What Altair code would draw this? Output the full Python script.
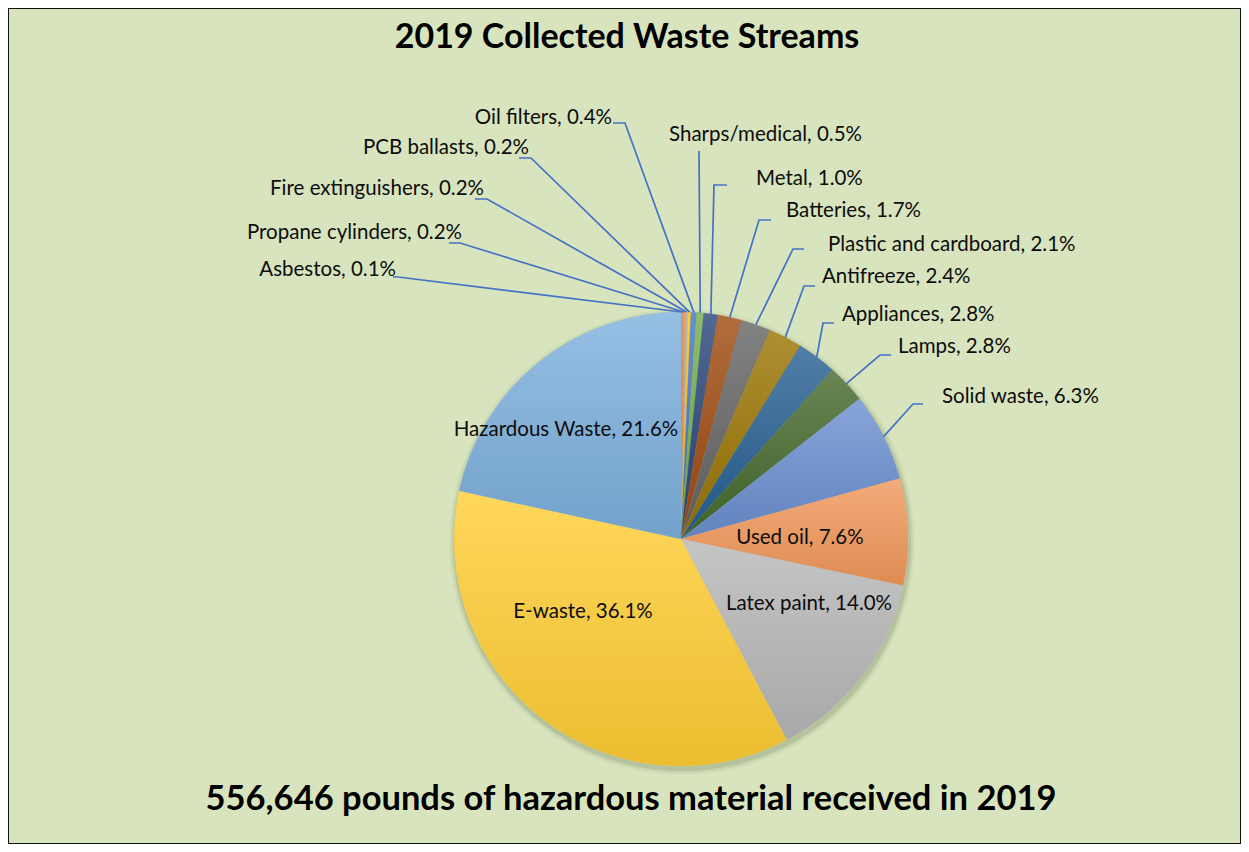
import math
import altair as alt
import pandas as pd

# ---------------- data ----------------
names = ["Asbestos", "Propane cylinders", "Fire extinguishers", "PCB ballasts",
         "Oil filters", "Sharps/medical", "Metal", "Batteries",
         "Plastic and cardboard", "Antifreeze", "Appliances", "Lamps",
         "Solid waste", "Used oil", "Latex paint", "E-waste", "Hazardous Waste"]
shares = [0.1, 0.2, 0.2, 0.2, 0.4, 0.5, 1.0, 1.7, 2.1, 2.4, 2.8, 2.8,
          6.3, 7.6, 14.0, 36.1, 21.6]
colors = ["#5B9BD5", "#ED7D31", "#A5A5A5", "#FFC000", "#4472C4", "#70AD47",
          "#264478", "#9E480E", "#636363", "#997300", "#255E91", "#43682B",
          "#698ED0", "#F1975A", "#B7B7B7", "#FFCD33", "#7CAFDD"]

title_text = "2019 Collected Waste Streams"
footer_text = "556,646 pounds of hazardous material received in 2019"

# ---------------- layout (px offsets from pie centre, y downwards) ----------------
R = 227
X_DOMAIN = [-673, 560]
Y_DOMAIN = [-531, 305]
label_pos = {
    "Asbestos": (-285, -269, "right"), "Propane cylinders": (-219, -306, "right"),
    "Fire extinguishers": (-197, -350, "right"), "PCB ballasts": (-152, -391, "right"),
    "Oil filters": (-69, -421, "right"),
    "Sharps/medical": (-12, -404, "left"), "Metal": (75, -360, "left"),
    "Batteries": (105, -328, "left"), "Plastic and cardboard": (147, -294, "left"),
    "Antifreeze": (141, -262, "left"), "Appliances": (161, -224, "left"),
    "Lamps": (217, -192, "left"), "Solid waste": (261, -142, "left"),
    "Used oil": (119, -1, "center"), "Latex paint": (128, 65, "center"),
    "E-waste": (-98, 73, "center"), "Hazardous Waste": (-115, -109, "center"),
}
# leader: (start x, elbow x, y)
leader = {
    "Asbestos": (-288, -283, -262), "Propane cylinders": (-232, -221, -296),
    "Fire extinguishers": (-206, -194, -340), "PCB ballasts": (-162, -150, -381),
    "Oil filters": (-68, -56, -416), "Sharps/medical": (18, 18, -388),
    "Metal": (46, 33, -354), "Batteries": (90, 78, -319),
    "Plastic and cardboard": (123, 112, -290), "Antifreeze": (134, 123, -253),
    "Appliances": (153, 142, -216), "Lamps": (210, 199, -184),
    "Solid waste": (242, 232, -135),
}

FONT = "Lato"
BG = "#D8E4BD"


def mix(hex_color, target, t):
    h = hex_color.lstrip("#")
    rgb = [int(h[i:i + 2], 16) for i in (0, 2, 4)]
    out = [round(c + (target - c) * t) for c in rgb]
    return "#" + "".join(f"{c:02X}" for c in out)


# ---------------- derived tables ----------------
rows = []
cum = 0.0
for n, s, c in zip(names, shares, colors):
    rows.append({"name": n, "value": s, "start": cum, "end": cum + s,
                 "mid": cum + s / 2, "label": f"{n}, {s:.1f}%"})
    cum += s
df = pd.DataFrame(rows)

xs = alt.Scale(domain=X_DOMAIN, nice=False, zero=False)
ys = alt.Scale(domain=Y_DOMAIN, nice=False, zero=False, reverse=True)
ts = alt.Scale(domain=[0, 100], range=[0, 2 * math.pi])


def X(field=None, datum=None):
    if datum is not None:
        return alt.X(datum=datum, type="quantitative", scale=xs, axis=None)
    return alt.X(field, type="quantitative", scale=xs, axis=None)


def Y(field=None, datum=None):
    if datum is not None:
        return alt.Y(datum=datum, type="quantitative", scale=ys, axis=None)
    return alt.Y(field, type="quantitative", scale=ys, axis=None)


one = pd.DataFrame({"k": [0]})
layers = []

# soft shadow
for extra, op in [(6, 0.04), (4, 0.07), (2, 0.12)]:
    layers.append(
        alt.Chart(one).mark_arc(radius=R + extra, theta=0, theta2=2 * math.pi,
                                color="#3c4a2a", opacity=op)
        .encode(x=X(datum=1), y=Y(datum=3))
    )

# slices with per-slice gradient
for i, (n, c) in enumerate(zip(names, colors)):
    grad = alt.LinearGradient(
        gradient="linear", x1=0, y1=0, x2=0, y2=1,
        stops=[alt.GradientStop(offset=0, color=mix(c, 255, 0.2)),
               alt.GradientStop(offset=1, color=mix(c, 0, 0.08))])
    layers.append(
        alt.Chart(df.iloc[[i]]).mark_arc(radius=R, fill=grad, stroke=mix(c, 255, 0.1),
                                         strokeWidth=0.3)
        .encode(theta=alt.Theta("start:Q", scale=ts), theta2="end:Q",
                x=X(datum=0), y=Y(datum=0))
    )

# leader lines
lrows = []
for n, (sx, ex, ly) in leader.items():
    m = df.loc[df.name == n, "mid"].iloc[0] / 100 * 2 * math.pi
    pts = [(sx, ly), (ex, ly), (R * math.sin(m), -R * math.cos(m))]
    for k, (px, py) in enumerate(pts):
        lrows.append({"name": n, "k": k, "lx": px, "ly": py})
ldf = pd.DataFrame(lrows)
layers.append(
    alt.Chart(ldf).mark_line(color="#4472C4", strokeWidth=1.7)
    .encode(x=X("lx"), y=Y("ly"), detail="name:N", order="k:Q")
)

# labels
tdf = df.copy()
tdf["tx"] = [label_pos[n][0] for n in names]
tdf["ty"] = [label_pos[n][1] for n in names]
tdf["al"] = [label_pos[n][2] for n in names]
for al in ["left", "right", "center"]:
    layers.append(
        alt.Chart(tdf[tdf.al == al]).mark_text(align=al, baseline="middle",
                                               font=FONT, fontSize=20.5, color="#0D0D0D")
        .encode(x=X("tx"), y=Y("ty"), text="label:N")
    )

# title & footer
layers.append(
    alt.Chart(pd.DataFrame({"t": [title_text]})).mark_text(
        font=FONT, fontSize=34, fontWeight="bold", color="#000000",
        align="center", baseline="middle")
    .encode(x=X(datum=-54), y=Y(datum=-501), text="t:N")
)
layers.append(
    alt.Chart(pd.DataFrame({"t": [footer_text]})).mark_text(
        font=FONT, fontSize=34.5, fontWeight="bold", color="#000000",
        align="center", baseline="middle")
    .encode(x=X(datum=-50), y=Y(datum=261), text="t:N")
)

chart = alt.layer(*layers).properties(
    width=1233, height=836,
    autosize=alt.AutoSizeParams(type="fit", contains="padding"),
    padding=0,
    background=BG,
).configure_view(stroke="#111111", strokeWidth=2, fill=BG)

chart.save("out.html", embed_options={"renderer": "svg", "actions": False})
